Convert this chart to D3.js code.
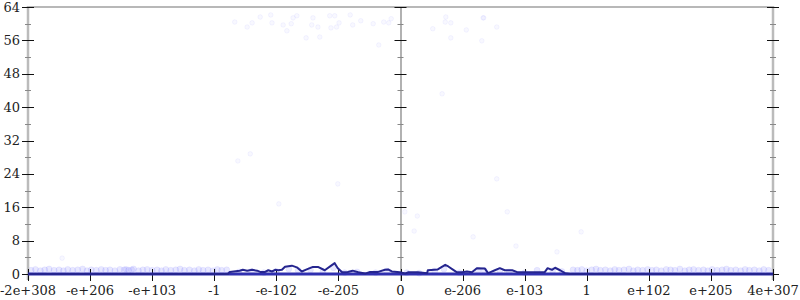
<!DOCTYPE html>
<html lang="en">
  <head>
    <meta charset="UTF-8" />
    <title>Float distribution</title>
    <script src="https://d3js.org/d3.v7.min.js"></script>
    <style>
      body { margin: 0; background: #fff; }
      svg text { font-family: "DejaVu Serif", serif; font-size: 13px; fill: #222; }
    </style>
  </head>
  <body>
    <svg id="chart" width="800" height="300"></svg>
    <script>
      // x positions are in "tick steps": -6 .. 6, 0 is the middle axis
      const xTickLabels = ["-2e+308", "-e+206", "-e+103", "-1", "-e-102", "-e-205", "0",
        "e-206", "e-103", "1", "e+102", "e+205", "4e+307"];
      const yTicks = [0, 8, 16, 24, 32, 40, 48, 56, 64];
      const yMinorTicks = [4, 12, 20, 28, 36, 44, 52, 60];

      // the dark line: [x, count]
      const lineData = [
        [-6, 0], [-2.78, 0], [-2.75, 0.5], [-2.59, 0.8], [-2.54, 1], [-2.47, 0.8], [-2.39, 1],
        [-2.31, 0.8], [-2.26, 0.5], [-2.18, 0.5], [-2.13, 0.9], [-2.07, 0.6], [-2.02, 1],
        [-1.97, 0.9], [-1.91, 1], [-1.86, 1.75], [-1.75, 2], [-1.67, 1.6], [-1.59, 0.6],
        [-1.51, 1.1], [-1.41, 1.7], [-1.33, 1.7], [-1.22, 0.9], [-1.1, 2.2], [-1.06, 2.6],
        [-1.01, 1.4], [-0.94, 0.4], [-0.85, 0.5], [-0.77, 0.8], [-0.68, 0.4], [-0.57, 0.1],
        [-0.49, 0.5], [-0.36, 0.5], [-0.25, 1], [-0.2, 1.1], [-0.14, 0.6], [-0.01, 0.4],
        [0.07, 0.1], [0.12, 0.4], [0.28, 0.4], [0.43, 0.2], [0.44, 0.9], [0.6, 1.1],
        [0.72, 2.2], [0.77, 1.8], [0.85, 1], [0.91, 0.4], [0.99, 0.4], [1.07, 0.6],
        [1.15, 0.4], [1.23, 1.4], [1.36, 1.3], [1.41, 0.2], [1.44, 0.4], [1.52, 0.9],
        [1.6, 1.4], [1.68, 0.9], [1.8, 0.9], [1.89, 0.4], [2.32, 0.4], [2.37, 1.4],
        [2.44, 1], [2.49, 1.5], [2.57, 0.9], [2.65, 0.2], [2.73, 0], [6, 0]
      ];

      // faint sample dots near the floor: [x, value]
      const lowDots = [
        [-5.95, 0.9], [-5.88, 1.1], [-5.8, 0.8], [-5.73, 1.0], [-5.66, 1.2], [-5.58, 0.9],
        [-5.5, 1.0], [-5.43, 0.8], [-5.36, 1.1], [-5.28, 0.9], [-5.2, 1.0], [-5.12, 1.2],
        [-5.05, 0.8], [-4.98, 1.0], [-4.9, 0.9], [-4.82, 1.1], [-4.75, 0.9], [-4.68, 1.0],
        [-4.6, 0.8], [-4.52, 1.1], [-4.45, 1.0], [-4.42, 1.1], [-4.38, 0.9], [-4.33, 1.0],
        [-4.3, 1.2], [-4.22, 0.8], [-4.15, 1.0], [-4.08, 1.1], [-4.0, 0.9], [-3.92, 1.0],
        [-3.85, 0.8], [-3.78, 1.1], [-3.7, 0.9], [-3.62, 1.0], [-3.55, 1.2], [-3.48, 0.9],
        [-3.4, 1.0], [-3.32, 0.8], [-3.25, 1.1], [-3.18, 0.9], [-3.1, 1.0], [-3.02, 0.8],
        [-2.95, 1.1], [-2.88, 0.9], [-2.8, 1.0],
        [-2.6, 0.5], [-2.4, 0.6], [-2.2, 0.3], [-2.0, 0.6], [-1.8, 1.2], [-1.65, 0.9],
        [-1.45, 1.0], [-1.25, 0.5], [-1.08, 1.5], [-0.9, 0.3], [-0.7, 0.5], [-0.4, 0.3],
        [-0.22, 0.7], [0.1, 0.3], [0.3, 0.2], [0.55, 0.7], [0.7, 1.2], [0.95, 0.3],
        [1.25, 0.9], [1.35, 0.8], [1.6, 0.8], [1.75, 0.5], [2.0, 0.3], [2.2, 0.9],
        [2.45, 0.8], [2.6, 0.6],
        [2.78, 1.0], [2.85, 0.9], [2.92, 1.1], [3.0, 0.8], [3.08, 1.0], [3.15, 1.2],
        [3.22, 0.9], [3.3, 1.0], [3.38, 0.8], [3.45, 1.1], [3.52, 0.9], [3.6, 1.0],
        [3.68, 1.2], [3.75, 0.8], [3.82, 1.0], [3.9, 0.9], [3.98, 1.1], [4.05, 0.9],
        [4.12, 1.0], [4.2, 0.8], [4.28, 1.1], [4.35, 1.0], [4.42, 0.9], [4.5, 1.2],
        [4.58, 0.8], [4.65, 1.0], [4.72, 1.1], [4.8, 0.9], [4.88, 1.0], [4.95, 0.8],
        [5.02, 1.1], [5.1, 0.9], [5.18, 1.0], [5.25, 1.2], [5.32, 0.9], [5.4, 1.0],
        [5.48, 0.8], [5.55, 1.1], [5.62, 0.9], [5.7, 1.0], [5.78, 0.8], [5.85, 1.1],
        [5.93, 0.9]
      ];
      // scattered outliers higher up
      const highDots = [
        [-2.67, 60.4], [-2.47, 59.2], [-2.39, 60.2], [-2.26, 61.6], [-2.09, 62.1], [-2.07, 60.2],
        [-1.89, 59.7], [-1.83, 58.3], [-1.76, 60.0], [-1.73, 61.4], [-1.67, 61.9], [-1.52, 56.6],
        [-1.41, 61.4], [-1.43, 59.7], [-1.33, 59.2], [-1.3, 56.8], [-1.14, 61.9], [-1.06, 61.9],
        [-1.12, 59.0], [-1.03, 59.2], [-0.99, 60.2], [-0.81, 62.1], [-0.77, 59.7], [-0.64, 60.7],
        [-0.44, 60.0], [-0.35, 54.9], [-0.27, 60.4], [-0.19, 60.2], [-0.15, 61.2], [0.52, 58.8],
        [0.73, 61.6], [0.72, 60.4], [0.81, 60.2], [0.81, 56.6], [1.06, 58.5], [1.33, 61.4],
        [1.34, 61.4], [1.31, 55.9], [1.55, 59.2], [0.67, 43.2],
        [-2.62, 27.1], [-2.42, 28.8], [-1.96, 16.8], [-1.01, 21.6], [1.55, 22.8], [0.07, 14.9],
        [0.27, 13.9], [0.22, 10.3], [1.72, 14.9], [1.17, 8.9], [1.86, 6.7], [2.52, 5.3],
        [2.91, 10.1], [-5.45, 3.8]
      ];

      const svg = d3.select("#chart");
      const x = d3.scaleLinear().domain([-6, 6]).range([28, 773]);
      const y = d3.scaleLinear().domain([0, 64]).range([274, 7]);
      const xTickPos = d3.range(-6, 7);

      // dots
      svg.append("g")
        .selectAll("circle")
        .data(lowDots)
        .join("circle")
        .attr("cx", (d) => x(d[0]))
        .attr("cy", (d) => y(d[1]))
        .attr("r", 3)
        .attr("fill", "rgba(110,110,255,0.16)")
        .attr("stroke", "rgba(110,110,255,0.12)")
        .attr("stroke-width", 0.8);
      svg.append("g")
        .selectAll("circle")
        .data(highDots)
        .join("circle")
        .attr("cx", (d) => x(d[0]))
        .attr("cy", (d) => y(d[1]))
        .attr("r", 2.3)
        .attr("fill", "rgba(120,120,255,0.05)")
        .attr("stroke", "rgba(120,120,255,0.09)")
        .attr("stroke-width", 0.8);

      // frame: top, left, right, middle
      svg.append("line").attr("x1", x(-6)).attr("x2", x(6)).attr("y1", y(64)).attr("y2", y(64))
        .attr("stroke", "#b8b8b8").attr("stroke-width", 2);
      [x(-6), x(6)].forEach((px) => {
        svg.append("line").attr("x1", px).attr("x2", px).attr("y1", y(64) - 1).attr("y2", 280)
          .attr("stroke", "#bbb").attr("stroke-width", 2.5);
      });
      svg.append("line").attr("x1", x(0) + 0.5).attr("x2", x(0) + 0.5).attr("y1", y(64)).attr("y2", 281)
        .attr("stroke", "#888").attr("stroke-width", 1.3);

      // y ticks on three axes
      const yAxes = [x(-6), x(0), x(6)];
      yAxes.forEach((px) => {
        svg.append("g").selectAll("line").data(yTicks).join("line")
          .attr("x1", px - 6).attr("x2", px + 6)
          .attr("y1", (d) => Math.round(y(d)) + 0.5).attr("y2", (d) => Math.round(y(d)) + 0.5)
          .attr("stroke", "#111").attr("stroke-width", 1);
        svg.append("g").selectAll("line").data(yMinorTicks).join("line")
          .attr("x1", px - 3).attr("x2", px + 3)
          .attr("y1", (d) => Math.round(y(d)) + 0.5).attr("y2", (d) => Math.round(y(d)) + 0.5)
          .attr("stroke", "#888").attr("stroke-width", 1);
      });
      svg.append("g").selectAll("text").data(yTicks).join("text")
        .attr("x", 20).attr("y", (d) => y(d)).attr("dy", "0.35em")
        .attr("text-anchor", "end").text((d) => d);

      // x ticks
      svg.append("g").selectAll("line").data(xTickPos).join("line")
        .attr("x1", (d) => Math.round(x(d)) + 0.5).attr("x2", (d) => Math.round(x(d)) + 0.5)
        .attr("y1", 269).attr("y2", 281)
        .attr("stroke", "#111").attr("stroke-width", 1);
      svg.append("g").selectAll("text").data(xTickPos).join("text")
        .attr("x", (d) => x(d)).attr("y", 295)
        .attr("text-anchor", "middle").text((d, i) => xTickLabels[i]);

      // blue floor line
      svg.append("line").attr("x1", x(-6)).attr("x2", x(6)).attr("y1", y(0)).attr("y2", y(0))
        .attr("stroke", "#3030b0").attr("stroke-width", 3);

      // line
      const line = d3.line().x((d) => x(d[0])).y((d) => y(d[1]));
      svg.append("path").datum(lineData)
        .attr("d", line)
        .attr("fill", "none")
        .attr("stroke", "#25258f")
        .attr("stroke-width", 2)
        .attr("stroke-linejoin", "round");
    </script>
  </body>
</html>
